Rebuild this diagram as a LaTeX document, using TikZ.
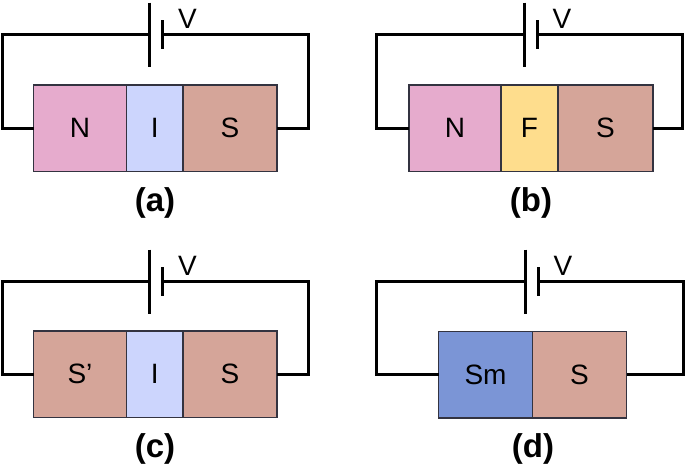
\documentclass[tikz,border=0pt]{standalone}
\usepackage{fontspec}
\setmainfont{Liberation Sans}
\definecolor{nc}{HTML}{E6ABCD}
\definecolor{ic}{HTML}{CCD5FD}
\definecolor{sc}{HTML}{D5A599}
\definecolor{fc}{HTML}{FEDD8D}
\definecolor{mc}{HTML}{7B95D6}
\definecolor{ec}{HTML}{333340}
\tikzset{
  wire/.style={line width=3pt,black,line cap=butt,line join=miter},
  plate/.style={line width=3pt,black},
  layer/.style={draw=ec,line width=1.2pt,inner sep=0pt,outer sep=0pt,font=\fontsize{28}{28}\selectfont,text=black,anchor=north west},
  vlabel/.style={font=\fontsize{28}{28}\selectfont,text=black,inner sep=0pt},
  caption/.style={font=\bfseries\fontsize{33}{33}\selectfont,text=black,inner sep=0pt}
}
% #1 prefix, #2 left wire x, #3 top wire y, #4 plate x, #5 right wire x, #6 box y top, #7 box height, #8 caption, #9 caption x
\newcommand{\circuit}[9]{%
  \coordinate (#1tl) at (#2,#3);
  \coordinate (#1tr) at (#5,#3);
  \coordinate (#1p1) at (#4,#3);
  \coordinate (#1p2) at (#4+13,#3);
  \draw[plate] ([yshift=32pt]#1p1) -- ([yshift=-32pt]#1p1);
  \draw[plate] ([yshift=14.5pt]#1p2) -- ([yshift=-14.5pt]#1p2);
  \draw[wire] (#1p1) -- (#1tl) -- (#1tl |- #1L.west) -- (#1L.west);
  \draw[wire] (#1p2) -- (#1tr) -- (#1tr |- #1R.east) -- (#1R.east);
  \node[vlabel] (#1V) at (#4+38,#3-16) {V};
  \node[caption] (#1cap) at (#9,#6+#7+31) {#8};
}
\begin{document}
\begin{tikzpicture}[x=1pt,y=-1pt]
\useasboundingbox (0,0) rectangle (685,463);
\fill[white] (0,0) rectangle (685,463);
% (a)
\node[layer,fill=nc,minimum width=93pt,minimum height=86.5pt] (aL) at (33.5,85) {N};
\node[layer,fill=ic,minimum width=56.5pt,minimum height=86.5pt] (aM) at (126.5,85) {I};
\node[layer,fill=sc,minimum width=94pt,minimum height=86.5pt] (aR) at (183,85) {S};
\circuit{a}{2.5}{34.5}{149.5}{308}{85}{86.5}{(a)}{155}
% (b)
\node[layer,fill=nc,minimum width=92pt,minimum height=86.5pt] (bL) at (409,85) {N};
\node[layer,fill=fc,minimum width=57pt,minimum height=86.5pt] (bM) at (501,85) {F};
\node[layer,fill=sc,minimum width=95pt,minimum height=86.5pt] (bR) at (558,85) {S};
\circuit{b}{376}{34.5}{524}{682.5}{85}{86.5}{(b)}{531}
% (c)
\node[layer,fill=sc,minimum width=93pt,minimum height=86.5pt] (cL) at (33.5,331) {S’};
\node[layer,fill=ic,minimum width=56.5pt,minimum height=86.5pt] (cM) at (126.5,331) {I};
\node[layer,fill=sc,minimum width=94pt,minimum height=86.5pt] (cR) at (183,331) {S};
\circuit{c}{2.5}{281.5}{149.5}{308}{331}{86.5}{(c)}{155}
% (d)
\node[layer,fill=mc,minimum width=94pt,minimum height=86.5pt] (dL) at (438.5,331.5) {Sm};
\node[layer,fill=sc,minimum width=94pt,minimum height=86.5pt] (dR) at (532.5,331.5) {S};
\circuit{d}{376}{281.5}{525}{683}{331.5}{86.5}{(d)}{533}
\end{tikzpicture}
\end{document}
